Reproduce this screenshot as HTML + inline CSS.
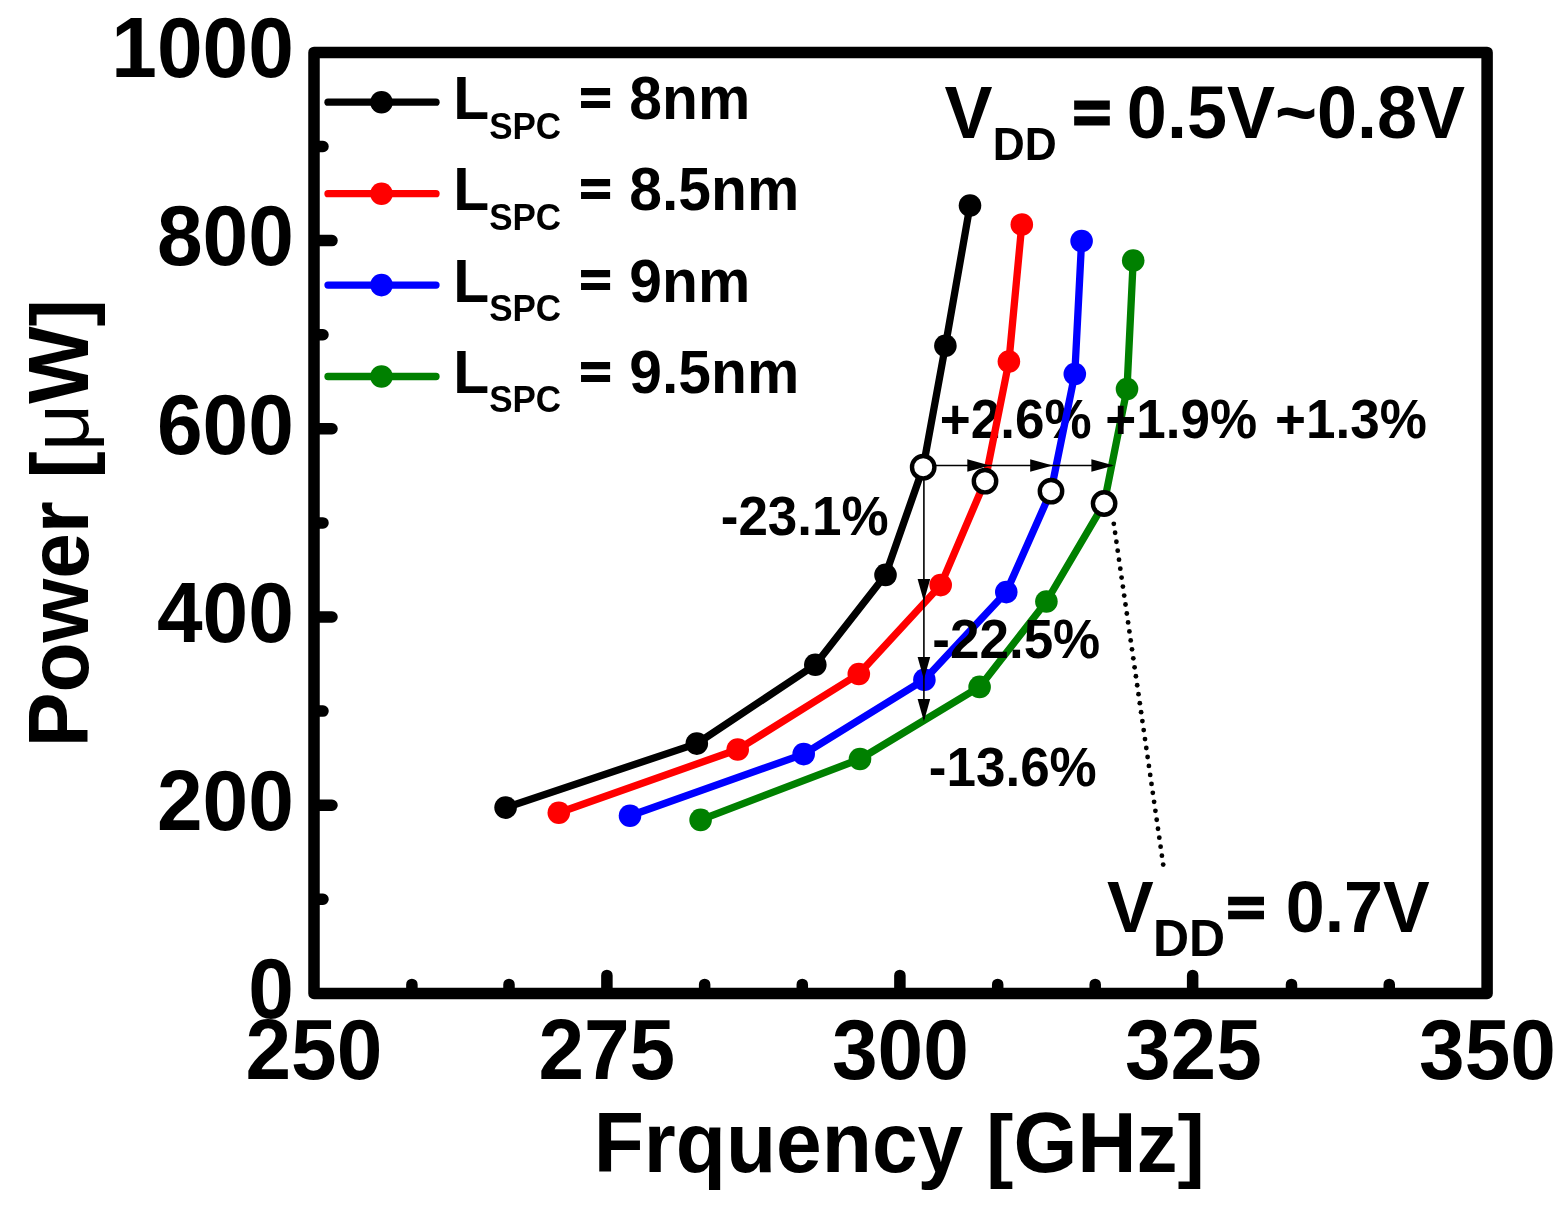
<!DOCTYPE html>
<html><head><meta charset="utf-8"><title>Power vs Frequency</title>
<style>html,body{margin:0;padding:0;background:#fff;width:1563px;height:1215px;overflow:hidden}svg{display:block}</style>
</head><body>
<svg width="1563" height="1215" viewBox="0 0 1563 1215">
<rect x="0" y="0" width="1563" height="1215" fill="#fff"/>
<path d="M411.90 991.40V984.40M509.00 991.40V984.40M606.90 991.40V975.40M704.65 991.40V984.40M802.30 991.40V984.40M899.90 991.40V975.40M997.70 991.40V984.40M1095.20 991.40V984.40M1192.65 991.40V975.40M1291.50 991.40V984.40M1389.25 991.40V984.40M316.00 899.30H323.00M316.00 805.20H332.00M316.00 711.10H323.00M316.00 617.00H332.00M316.00 522.90H323.00M316.00 428.80H332.00M316.00 334.70H323.00M316.00 240.60H332.00M316.00 146.50H323.00" stroke="#000" stroke-width="11.5" stroke-linecap="round" fill="none"/>
<rect x="314.0" y="52.4" width="1173.10" height="941.00" fill="none" stroke="#000" stroke-width="11.5" stroke-linejoin="round"/>
<text transform="translate(248.16 1018.10) scale(1 1.04)" style="font-family:'Liberation Sans',Arial,sans-serif;font-weight:bold;font-kerning:none;font-size:82px">0</text>
<text transform="translate(156.95 829.90) scale(1 1.04)" style="font-family:'Liberation Sans',Arial,sans-serif;font-weight:bold;font-kerning:none;font-size:82px">200</text>
<text transform="translate(156.95 641.70) scale(1 1.04)" style="font-family:'Liberation Sans',Arial,sans-serif;font-weight:bold;font-kerning:none;font-size:82px">400</text>
<text transform="translate(156.95 453.50) scale(1 1.04)" style="font-family:'Liberation Sans',Arial,sans-serif;font-weight:bold;font-kerning:none;font-size:82px">600</text>
<text transform="translate(156.95 265.30) scale(1 1.04)" style="font-family:'Liberation Sans',Arial,sans-serif;font-weight:bold;font-kerning:none;font-size:82px">800</text>
<text transform="translate(111.35 77.10) scale(1 1.04)" style="font-family:'Liberation Sans',Arial,sans-serif;font-weight:bold;font-kerning:none;font-size:82px">1000</text>
<text transform="translate(245.45 1078.80) scale(1 1.04)" style="font-family:'Liberation Sans',Arial,sans-serif;font-weight:bold;font-kerning:none;font-size:82px">250</text>
<text transform="translate(538.41 1078.80) scale(1 1.04)" style="font-family:'Liberation Sans',Arial,sans-serif;font-weight:bold;font-kerning:none;font-size:82px">275</text>
<text transform="translate(831.98 1078.80) scale(1 1.04)" style="font-family:'Liberation Sans',Arial,sans-serif;font-weight:bold;font-kerning:none;font-size:82px">300</text>
<text transform="translate(1124.94 1078.80) scale(1 1.04)" style="font-family:'Liberation Sans',Arial,sans-serif;font-weight:bold;font-kerning:none;font-size:82px">325</text>
<text transform="translate(1419.03 1078.80) scale(1 1.04)" style="font-family:'Liberation Sans',Arial,sans-serif;font-weight:bold;font-kerning:none;font-size:82px">350</text>
<path d="M505.6 807.6 L696.8 743.6 L815.3 664.8 L885.5 574.9 L923.2 467.2 L945.4 345.8 L970.0 205.6" stroke="#000000" stroke-width="7.3" fill="none" stroke-linejoin="round" stroke-linecap="round"/>
<circle cx="505.6" cy="807.6" r="11.3" fill="#000000"/>
<circle cx="696.8" cy="743.6" r="11.3" fill="#000000"/>
<circle cx="815.3" cy="664.8" r="11.3" fill="#000000"/>
<circle cx="885.5" cy="574.9" r="11.3" fill="#000000"/>
<circle cx="945.4" cy="345.8" r="11.3" fill="#000000"/>
<circle cx="970" cy="205.6" r="11.3" fill="#000000"/>
<text transform="translate(939.87 437.90) scale(1 1.04)" style="font-family:'Liberation Sans',Arial,sans-serif;font-weight:bold;font-kerning:none;font-size:53px">+2.6%</text>
<path d="M558.8 812.7 L737.7 749.5 L858.8 674.0 L940.7 585.1 L985.0 481.2 L1008.9 361.6 L1021.8 224.6" stroke="#ff0000" stroke-width="7.3" fill="none" stroke-linejoin="round" stroke-linecap="round"/>
<circle cx="558.8" cy="812.7" r="11.3" fill="#ff0000"/>
<circle cx="737.7" cy="749.5" r="11.3" fill="#ff0000"/>
<circle cx="858.8" cy="674" r="11.3" fill="#ff0000"/>
<circle cx="940.7" cy="585.1" r="11.3" fill="#ff0000"/>
<circle cx="1008.9" cy="361.6" r="11.3" fill="#ff0000"/>
<circle cx="1021.8" cy="224.6" r="11.3" fill="#ff0000"/>
<path d="M630.0 815.8 L803.7 754.1 L924.4 679.7 L1006.3 592.1 L1051.0 491.2 L1074.8 374.0 L1081.6 241.0" stroke="#0000ff" stroke-width="7.3" fill="none" stroke-linejoin="round" stroke-linecap="round"/>
<circle cx="630" cy="815.8" r="11.3" fill="#0000ff"/>
<circle cx="803.7" cy="754.1" r="11.3" fill="#0000ff"/>
<circle cx="924.4" cy="679.7" r="11.3" fill="#0000ff"/>
<circle cx="1006.3" cy="592.1" r="11.3" fill="#0000ff"/>
<circle cx="1074.8" cy="374.0" r="11.3" fill="#0000ff"/>
<circle cx="1081.6" cy="241" r="11.3" fill="#0000ff"/>
<path d="M700.6 819.9 L860.0 759.0 L979.6 686.9 L1046.4 601.5 L1104.1 503.5 L1127.0 389.0 L1133.2 260.5" stroke="#008000" stroke-width="7.3" fill="none" stroke-linejoin="round" stroke-linecap="round"/>
<circle cx="700.6" cy="819.9" r="11.3" fill="#008000"/>
<circle cx="860" cy="759" r="11.3" fill="#008000"/>
<circle cx="979.6" cy="686.9" r="11.3" fill="#008000"/>
<circle cx="1046.4" cy="601.5" r="11.3" fill="#008000"/>
<circle cx="1127.0" cy="389" r="11.3" fill="#008000"/>
<circle cx="1133.2" cy="260.5" r="11.3" fill="#008000"/>
<path d="M934 465.5H1112" stroke="#000" stroke-width="1.6" fill="none"/>
<path d="M989.8 465.5L967.3 459.2L967.3 471.8Z" fill="#000"/>
<path d="M1052.7 465.5L1030.2 459.2L1030.2 471.8Z" fill="#000"/>
<path d="M1113.9 465.5L1091.4 459.2L1091.4 471.8Z" fill="#000"/>
<path d="M923.9 478V719" stroke="#000" stroke-width="1.6" fill="none"/>
<path d="M923.9 601.5L917.6 579.0L930.2 579.0Z" fill="#000"/>
<path d="M923.9 679.5L917.6 657.0L930.2 657.0Z" fill="#000"/>
<path d="M923.9 721.5L917.6 699.0L930.2 699.0Z" fill="#000"/>
<g fill="#000"><circle cx="1113.80" cy="523.80" r="2.4"/><circle cx="1115.10" cy="532.77" r="2.4"/><circle cx="1116.40" cy="541.74" r="2.4"/><circle cx="1117.70" cy="550.71" r="2.4"/><circle cx="1119.00" cy="559.67" r="2.4"/><circle cx="1120.30" cy="568.64" r="2.4"/><circle cx="1121.60" cy="577.61" r="2.4"/><circle cx="1122.90" cy="586.58" r="2.4"/><circle cx="1124.20" cy="595.55" r="2.4"/><circle cx="1125.50" cy="604.52" r="2.4"/><circle cx="1126.80" cy="613.48" r="2.4"/><circle cx="1128.10" cy="622.45" r="2.4"/><circle cx="1129.40" cy="631.42" r="2.4"/><circle cx="1130.70" cy="640.39" r="2.4"/><circle cx="1132.00" cy="649.36" r="2.4"/><circle cx="1133.30" cy="658.33" r="2.4"/><circle cx="1134.60" cy="667.29" r="2.4"/><circle cx="1135.90" cy="676.26" r="2.4"/><circle cx="1137.20" cy="685.23" r="2.4"/><circle cx="1138.50" cy="694.20" r="2.4"/><circle cx="1139.80" cy="703.17" r="2.4"/><circle cx="1141.10" cy="712.14" r="2.4"/><circle cx="1142.40" cy="721.11" r="2.4"/><circle cx="1143.70" cy="730.07" r="2.4"/><circle cx="1145.00" cy="739.04" r="2.4"/><circle cx="1146.30" cy="748.01" r="2.4"/><circle cx="1147.60" cy="756.98" r="2.4"/><circle cx="1148.90" cy="765.95" r="2.4"/><circle cx="1150.20" cy="774.92" r="2.4"/><circle cx="1151.50" cy="783.88" r="2.4"/><circle cx="1152.80" cy="792.85" r="2.4"/><circle cx="1154.10" cy="801.82" r="2.4"/><circle cx="1155.40" cy="810.79" r="2.4"/><circle cx="1156.70" cy="819.76" r="2.4"/><circle cx="1158.00" cy="828.73" r="2.4"/><circle cx="1159.30" cy="837.69" r="2.4"/><circle cx="1160.60" cy="846.66" r="2.4"/><circle cx="1161.90" cy="855.63" r="2.4"/><circle cx="1163.20" cy="864.60" r="2.4"/></g>
<circle cx="923.2" cy="467.2" r="11.2" fill="#fff" stroke="#000" stroke-width="4.4"/>
<circle cx="985" cy="481.2" r="11.2" fill="#fff" stroke="#000" stroke-width="4.4"/>
<circle cx="1051.0" cy="491.2" r="11.2" fill="#fff" stroke="#000" stroke-width="4.4"/>
<circle cx="1104.1" cy="503.5" r="11.2" fill="#fff" stroke="#000" stroke-width="4.4"/>
<path d="M328 102.2H436" stroke="#000000" stroke-width="7.3" stroke-linecap="round"/>
<circle cx="381.5" cy="102.2" r="11.3" fill="#000000"/>
<text transform="translate(453.27 119.10) scale(1 1.04)" style="font-family:'Liberation Sans',Arial,sans-serif;font-weight:bold;font-kerning:none;font-size:58.8px">L</text>
<text transform="translate(489.19 138.70) scale(1 1.04)" style="font-family:'Liberation Sans',Arial,sans-serif;font-weight:bold;font-kerning:none;font-size:35px">SPC</text>
<text transform="translate(579.64 114.90) scale(0.7516 0.6742)" style="font-family:'Liberation Sans',Arial,sans-serif;font-weight:bold;font-kerning:none;font-size:72px" stroke="#000" stroke-width="2.61">=</text>
<text transform="translate(629.33 119.10) scale(1 1.04)" style="font-family:'Liberation Sans',Arial,sans-serif;font-weight:bold;font-kerning:none;font-size:58.8px">8nm</text>
<path d="M328 193.7H436" stroke="#ff0000" stroke-width="7.3" stroke-linecap="round"/>
<circle cx="381.5" cy="193.7" r="11.3" fill="#ff0000"/>
<text transform="translate(453.27 210.35) scale(1 1.04)" style="font-family:'Liberation Sans',Arial,sans-serif;font-weight:bold;font-kerning:none;font-size:58.8px">L</text>
<text transform="translate(489.19 229.95) scale(1 1.04)" style="font-family:'Liberation Sans',Arial,sans-serif;font-weight:bold;font-kerning:none;font-size:35px">SPC</text>
<text transform="translate(579.64 206.15) scale(0.7516 0.6742)" style="font-family:'Liberation Sans',Arial,sans-serif;font-weight:bold;font-kerning:none;font-size:72px" stroke="#000" stroke-width="2.61">=</text>
<text transform="translate(629.33 210.35) scale(1 1.04)" style="font-family:'Liberation Sans',Arial,sans-serif;font-weight:bold;font-kerning:none;font-size:58.8px">8.5nm</text>
<path d="M328 285.1H436" stroke="#0000ff" stroke-width="7.3" stroke-linecap="round"/>
<circle cx="381.5" cy="285.1" r="11.3" fill="#0000ff"/>
<text transform="translate(453.27 301.60) scale(1 1.04)" style="font-family:'Liberation Sans',Arial,sans-serif;font-weight:bold;font-kerning:none;font-size:58.8px">L</text>
<text transform="translate(489.19 321.20) scale(1 1.04)" style="font-family:'Liberation Sans',Arial,sans-serif;font-weight:bold;font-kerning:none;font-size:35px">SPC</text>
<text transform="translate(579.64 297.40) scale(0.7516 0.6742)" style="font-family:'Liberation Sans',Arial,sans-serif;font-weight:bold;font-kerning:none;font-size:72px" stroke="#000" stroke-width="2.61">=</text>
<text transform="translate(629.33 301.60) scale(1 1.04)" style="font-family:'Liberation Sans',Arial,sans-serif;font-weight:bold;font-kerning:none;font-size:58.8px">9nm</text>
<path d="M328 376.5H436" stroke="#008000" stroke-width="7.3" stroke-linecap="round"/>
<circle cx="381.5" cy="376.5" r="11.3" fill="#008000"/>
<text transform="translate(453.27 392.85) scale(1 1.04)" style="font-family:'Liberation Sans',Arial,sans-serif;font-weight:bold;font-kerning:none;font-size:58.8px">L</text>
<text transform="translate(489.19 412.45) scale(1 1.04)" style="font-family:'Liberation Sans',Arial,sans-serif;font-weight:bold;font-kerning:none;font-size:35px">SPC</text>
<text transform="translate(579.64 388.65) scale(0.7516 0.6742)" style="font-family:'Liberation Sans',Arial,sans-serif;font-weight:bold;font-kerning:none;font-size:72px" stroke="#000" stroke-width="2.61">=</text>
<text transform="translate(629.33 392.85) scale(1 1.04)" style="font-family:'Liberation Sans',Arial,sans-serif;font-weight:bold;font-kerning:none;font-size:58.8px">9.5nm</text>
<text transform="translate(944.51 137.70) scale(1 1.04)" style="font-family:'Liberation Sans',Arial,sans-serif;font-weight:bold;font-kerning:none;font-size:72px">V</text>
<text transform="translate(992.84 159.50) scale(1 1.04)" style="font-family:'Liberation Sans',Arial,sans-serif;font-weight:bold;font-kerning:none;font-size:44.3px">DD</text>
<text transform="translate(1073.36 131.61) scale(0.8911 0.8002)" style="font-family:'Liberation Sans',Arial,sans-serif;font-weight:bold;font-kerning:none;font-size:72px" stroke="#000" stroke-width="3.98">=</text>
<text transform="translate(1126.85 137.70) scale(1 1.04)" style="font-family:'Liberation Sans',Arial,sans-serif;font-weight:bold;font-kerning:none;font-size:72px">0.5V~0.8V</text>
<text transform="translate(1107.02 932.00) scale(1 1.04)" style="font-family:'Liberation Sans',Arial,sans-serif;font-weight:bold;font-kerning:none;font-size:70px">V</text>
<text transform="translate(1153.06 956.10) scale(1 1.04)" style="font-family:'Liberation Sans',Arial,sans-serif;font-weight:bold;font-kerning:none;font-size:49.9px">DD</text>
<text transform="translate(1226.98 925.60) scale(0.9055 0.7537)" style="font-family:'Liberation Sans',Arial,sans-serif;font-weight:bold;font-kerning:none;font-size:72px" stroke="#000" stroke-width="3.51">=</text>
<text transform="translate(1285.73 932.00) scale(1 1.04)" style="font-family:'Liberation Sans',Arial,sans-serif;font-weight:bold;font-kerning:none;font-size:70px">0.7V</text>
<text transform="translate(1105.37 438.20) scale(1 1.04)" style="font-family:'Liberation Sans',Arial,sans-serif;font-weight:bold;font-kerning:none;font-size:53px">+1.9%</text>
<text transform="translate(1275.07 438.20) scale(1 1.04)" style="font-family:'Liberation Sans',Arial,sans-serif;font-weight:bold;font-kerning:none;font-size:53px">+1.3%</text>
<text transform="translate(720.73 534.90) scale(1 1.04)" style="font-family:'Liberation Sans',Arial,sans-serif;font-weight:bold;font-kerning:none;font-size:53px">-23.1%</text>
<text transform="translate(932.33 657.80) scale(1 1.04)" style="font-family:'Liberation Sans',Arial,sans-serif;font-weight:bold;font-kerning:none;font-size:53px">-22.5%</text>
<text transform="translate(928.83 786.10) scale(1 1.04)" style="font-family:'Liberation Sans',Arial,sans-serif;font-weight:bold;font-kerning:none;font-size:53px">-13.6%</text>
<text transform="translate(593.71 1172.10) scale(1 1.04)" style="font-family:'Liberation Sans',Arial,sans-serif;font-weight:bold;font-kerning:none;font-size:82.1px">Frquency </text>
<text transform="translate(986.05 1172.10) scale(1 1.0)" style="font-family:'Liberation Sans',Arial,sans-serif;font-weight:bold;font-kerning:none;font-size:82.1px">[</text>
<text transform="translate(1013.39 1172.10) scale(1 1.04)" style="font-family:'Liberation Sans',Arial,sans-serif;font-weight:bold;font-kerning:none;font-size:82.1px">GHz</text>
<text transform="translate(1177.59 1172.10) scale(1 1.0)" style="font-family:'Liberation Sans',Arial,sans-serif;font-weight:bold;font-kerning:none;font-size:82.1px">]</text>
<text transform="translate(88.00 747.29) rotate(-90) scale(1 1.04)" style="font-family:'Liberation Sans',Arial,sans-serif;font-weight:bold;font-kerning:none;font-size:82px">Power </text>
<text transform="translate(88.00 478.42) rotate(-90) scale(1 1.0)" style="font-family:'Liberation Sans',Arial,sans-serif;font-weight:bold;font-kerning:none;font-size:82px">[</text>
<text transform="translate(88.00 451.12) rotate(-90) scale(1 1.0)" style="font-family:'Liberation Sans',Arial,sans-serif;font-weight:normal;font-kerning:none;font-size:82px">μ</text>
<text transform="translate(88.00 403.87) rotate(-90) scale(1 1.04)" style="font-family:'Liberation Sans',Arial,sans-serif;font-weight:bold;font-kerning:none;font-size:82px">W</text>
<text transform="translate(88.00 326.47) rotate(-90) scale(1 1.0)" style="font-family:'Liberation Sans',Arial,sans-serif;font-weight:bold;font-kerning:none;font-size:82px">]</text>
</svg>
</body></html>
